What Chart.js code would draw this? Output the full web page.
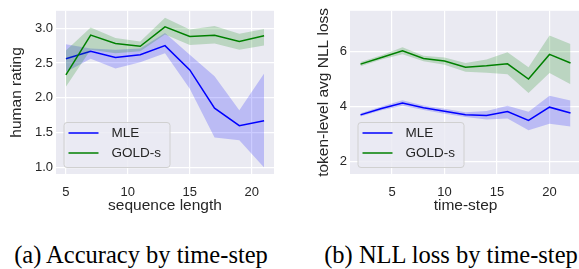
<!DOCTYPE html>
<html>
<head>
<meta charset="utf-8">
<script src="https://cdn.jsdelivr.net/npm/chart.js@4.4.0/dist/chart.umd.min.js"></script>
<style>
  html, body { margin: 0; padding: 0; background: #fff; overflow: hidden; width: 579px; height: 269px; }
  canvas { position: absolute; top: 0; }
  #left { left: 0; }
  #right { left: 290px; }
  .caption { position: absolute; top: 243px; line-height: 1; font-family: "Liberation Serif", "Times New Roman", serif; font-size: 24.5px; color: #000; white-space: nowrap; transform: translateX(-50%); }
</style>
</head>
<body>
<canvas id="left" width="290" height="215"></canvas>
<canvas id="right" width="291" height="215"></canvas>
<div class="caption" style="left:141px">(a) Accuracy by time-step</div>
<div class="caption" style="left:451px">(b) NLL loss by time-step</div>
<script>
// (a) human rating by sequence length
const seqLen = [5, 7, 9, 11, 13, 15, 17, 19, 21];
const mleRating = [2.56, 2.67, 2.58, 2.62, 2.75, 2.40, 1.85, 1.60, 1.67];
const mleRatingLow = [2.37, 2.56, 2.42, 2.51, 2.64, 2.13, 1.43, 1.39, 1.00];
const mleRatingHigh = [2.77, 2.71, 2.69, 2.71, 2.93, 2.62, 2.31, 1.82, 2.35];
const goldRating = [2.33, 2.90, 2.78, 2.74, 3.02, 2.88, 2.90, 2.81, 2.89];
const goldRatingLow = [2.16, 2.69, 2.64, 2.67, 2.91, 2.76, 2.78, 2.69, 2.75];
const goldRatingHigh = [2.68, 3.01, 2.86, 2.81, 3.15, 2.98, 3.03, 2.92, 2.99];

// (b) NLL loss by time-step
const timeStep = [2, 4, 6, 8, 10, 12, 14, 16, 18, 20, 22];
const mleNll = [3.70, 3.93, 4.13, 3.96, 3.83, 3.71, 3.68, 3.82, 3.50, 3.98, 3.77];
const mleNllLow = [3.64, 3.87, 4.03, 3.88, 3.74, 3.62, 3.53, 3.57, 3.14, 3.38, 3.28];
const mleNllHigh = [3.76, 4.00, 4.23, 4.04, 3.92, 3.80, 3.84, 4.03, 3.81, 4.39, 4.22];
const goldNll = [5.54, 5.78, 6.02, 5.74, 5.65, 5.43, 5.48, 5.55, 5.00, 5.89, 5.58];
const goldNllLow = [5.46, 5.71, 5.90, 5.64, 5.52, 5.26, 5.23, 5.17, 4.49, 5.22, 4.81];
const goldNllHigh = [5.62, 5.86, 6.15, 5.84, 5.78, 5.58, 5.71, 5.97, 5.43, 6.58, 6.27];

const seriesNames = ["MLE", "GOLD-s"];

const TEXT = "#262626";
const SANS = "'Liberation Sans', Arial, sans-serif";

function pts(xs, ys) {
  return xs.map((x, i) => ({ x: x, y: ys[i] }));
}

// grey panel behind the plot, seaborn style
const panelBg = {
  id: "panelBg",
  beforeDraw(chart) {
    const a = chart.chartArea, ctx = chart.ctx;
    ctx.save();
    ctx.fillStyle = "#EAEAF2";
    ctx.fillRect(a.left, a.top, a.right - a.left, a.bottom - a.top);
    ctx.restore();
  },
};

// legend box in lower-left corner of the plot
const innerLegend = {
  id: "innerLegend",
  afterDraw(chart) {
    const a = chart.chartArea, ctx = chart.ctx;
    const items = chart.data.datasets.filter((d) => d.legend);
    const w = 106, h = 45;
    const x0 = a.left + 7.5, y0 = a.bottom - 7 - h;
    ctx.save();
    ctx.beginPath();
    ctx.roundRect(x0 + 0.5, y0 + 0.5, w, h, 3);
    ctx.fillStyle = "rgba(234,234,242,0.8)";
    ctx.fill();
    ctx.strokeStyle = "#d0d0d0";
    ctx.lineWidth = 1;
    ctx.stroke();
    ctx.font = "13.5px " + SANS;
    ctx.textBaseline = "middle";
    items.forEach((d, i) => {
      const y = y0 + 11 + i * 20;
      ctx.beginPath();
      ctx.moveTo(x0 + 5, y);
      ctx.lineTo(x0 + 35, y);
      ctx.strokeStyle = d.borderColor;
      ctx.lineWidth = 1.5;
      ctx.stroke();
      ctx.fillStyle = TEXT;
      ctx.fillText(d.label, x0 + 48, y + 0.5);
    });
    ctx.restore();
  },
};

function bandSets(xs, mean, low, high, color, fillColor, label, order) {
  return [
    { data: pts(xs, low), borderWidth: 0, pointRadius: 0, fill: "+1", backgroundColor: fillColor, order: order + 1 },
    { data: pts(xs, high), borderWidth: 0, pointRadius: 0, fill: false, order: order + 1 },
    { label: label, legend: true, data: pts(xs, mean), borderColor: color, borderWidth: 1.5, pointRadius: 0, fill: false, order: order },
  ];
}

function makeChart(id, opts) {
  const datasets = [].concat(
    bandSets(opts.xs, opts.mle, opts.mleLow, opts.mleHigh, "#0000FF", "rgba(0,0,255,0.2)", seriesNames[0], 3),
    bandSets(opts.xs, opts.gold, opts.goldLow, opts.goldHigh, "#008000", "rgba(0,128,0,0.2)", seriesNames[1], 1)
  );
  return new Chart(document.getElementById(id), {
    type: "line",
    data: { datasets: datasets },
    plugins: [panelBg, innerLegend],
    options: {
      responsive: false,
      animation: false,
      devicePixelRatio: 1,
      layout: { padding: { top: 9, right: opts.padRight, left: 0, bottom: 0 } },
      plugins: { legend: { display: false }, tooltip: { enabled: false } },
      elements: { line: { tension: 0 } },
      scales: {
        x: {
          type: "linear",
          min: opts.xMin,
          max: opts.xMax,
          border: { display: false },
          grid: { color: "#ffffff", lineWidth: 1.2, drawTicks: false },
          ticks: { stepSize: 5, includeBounds: false, padding: 11, color: TEXT, font: { family: SANS, size: 13 } },
          title: { display: true, text: opts.xTitle, color: TEXT, font: { family: SANS, size: 15.5 }, padding: { top: 0, bottom: 0 } },
          afterFit(s) { s.height = 41; },
        },
        y: {
          min: opts.yMin,
          max: opts.yMax,
          border: { display: false },
          grid: { color: "#ffffff", lineWidth: 1.2, drawTicks: false },
          ticks: {
            stepSize: opts.yStep,
            includeBounds: false,
            padding: 3,
            color: TEXT,
            font: { family: SANS, size: 13 },
            callback: (v) => v.toFixed(opts.yDigits),
          },
          title: { display: true, text: opts.yTitle, color: TEXT, font: { family: SANS, size: 15.5 }, padding: { top: opts.yTitlePad, bottom: 0 } },
          afterFit(s) { s.width = opts.yWidth; },
        },
      },
    },
  });
}

makeChart("left", {
  xs: seqLen, mle: mleRating, mleLow: mleRatingLow, mleHigh: mleRatingHigh,
  gold: goldRating, goldLow: goldRatingLow, goldHigh: goldRatingHigh,
  xMin: 4.2, xMax: 21.8, yMin: 0.905, yMax: 3.25, yStep: 0.5, yDigits: 1,
  xTitle: "sequence length", yTitle: "human rating", yWidth: 56, padRight: 16, yTitlePad: 7,
});

makeChart("right", {
  xs: timeStep, mle: mleNll, mleLow: mleNllLow, mleHigh: mleNllHigh,
  gold: goldNll, goldLow: goldNllLow, goldHigh: goldNllHigh,
  xMin: 1.0, xMax: 23.0, yMin: 1.56, yMax: 7.47, yStep: 2, yDigits: 0,
  xTitle: "time-step", yTitle: "token-level avg NLL loss", yWidth: 60, padRight: 0, yTitlePad: 24,
});
</script>
</body>
</html>
